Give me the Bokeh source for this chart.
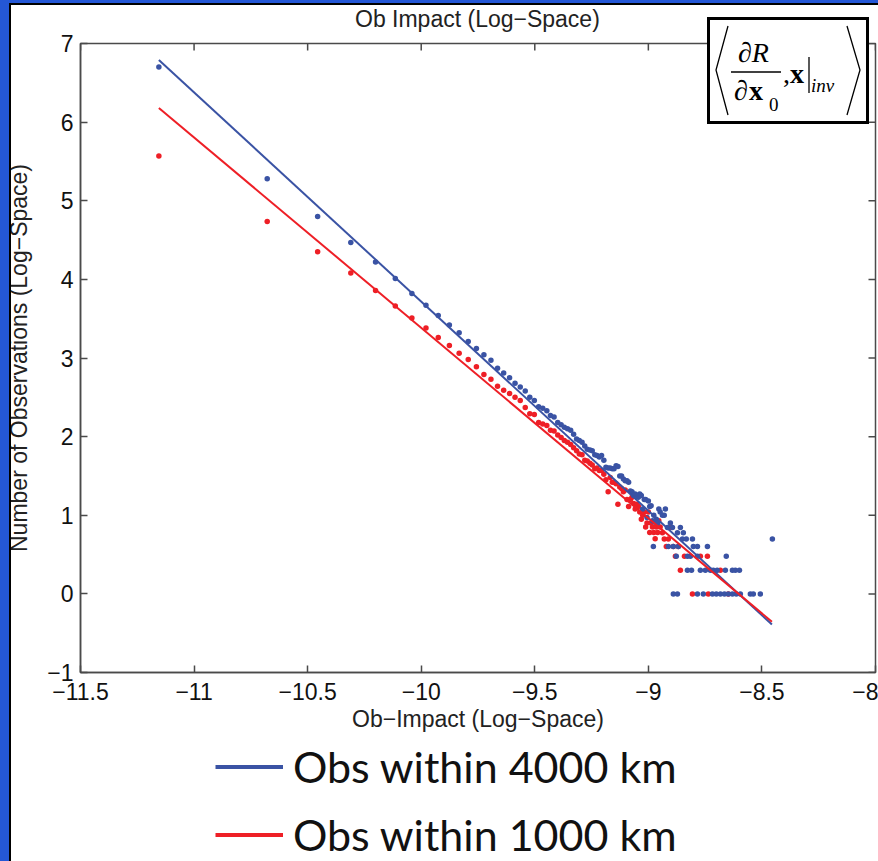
from bokeh.plotting import figure
from bokeh.models import FixedTicker, Legend, LegendItem, Div, Range1d
from bokeh.layouts import column
from bokeh.embed import file_html
from bokeh.resources import INLINE

# ---------------- data ----------------
blue_x = [-11.155, -10.678, -10.456, -10.310, -10.201, -10.114, -10.041, -9.979, -9.925, -9.876,
          -9.833, -9.793, -9.757, -9.724, -9.693, -9.664, -9.637, -9.611, -9.587, -9.564,
          -9.542, -9.522, -9.502, -9.483, -9.465, -9.447, -9.431, -9.415, -9.399, -9.384,
          -9.370, -9.356, -9.342, -9.329, -9.316, -9.304, -9.292, -9.280, -9.269, -9.257,
          -9.247, -9.236, -9.226, -9.216, -9.206, -9.196, -9.187, -9.177, -9.168, -9.159,
          -9.151, -9.142, -9.134, -9.126, -9.118, -9.110, -9.102, -9.094, -9.087, -9.079,
          -9.072, -9.065, -9.058, -9.051, -9.044, -9.038, -9.031, -9.025, -9.018, -9.012,
          -9.006, -9.000, -8.994, -8.988, -8.982, -8.976, -8.970, -8.965, -8.959, -8.954,
          -8.948, -8.978, -8.938, -8.930, -8.925, -8.916, -8.912, -8.903, -8.894, -8.890,
          -8.890, -8.877, -8.872, -8.872, -8.868, -8.859, -8.850, -8.846, -8.833, -8.828,
          -8.828, -8.815, -8.810, -8.806, -8.802, -8.784, -8.784, -8.784, -8.771, -8.758,
          -8.749, -8.740, -8.727, -8.718, -8.714, -8.701, -8.697, -8.683, -8.665, -8.661,
          -8.657, -8.648, -8.630, -8.630, -8.617, -8.613, -8.599, -8.595, -8.551, -8.538,
          -8.507, -8.454]
blue_y = [6.70, 5.28, 4.80, 4.47, 4.22, 4.01, 3.82, 3.67, 3.54, 3.42,
          3.32, 3.21, 3.12, 3.04, 2.97, 2.87, 2.81, 2.75, 2.68, 2.63,
          2.58, 2.50, 2.46, 2.38, 2.36, 2.33, 2.27, 2.25, 2.18, 2.15,
          2.12, 2.10, 2.08, 2.03, 1.97, 1.95, 1.93, 1.88, 1.84, 1.83,
          1.82, 1.77, 1.76, 1.74, 1.76, 1.70, 1.61, 1.60, 1.60, 1.59,
          1.59, 1.63, 1.62, 1.50, 1.50, 1.46, 1.44, 1.44, 1.42, 1.31,
          1.30, 1.25, 1.27, 1.25, 1.23, 1.27, 1.25, 1.08, 1.20, 1.20,
          0.97, 1.18, 1.11, 1.12, 0.93, 1.00, 0.91, 0.95, 0.90, 1.08,
          1.04, 0.602, 1.00, 1.00, 1.08, 0.845, 0.602, 0.903, 0.845, 0.602,
          0.0, 0.477, 0.778, 0.0, 0.602, 0.845, 0.699, 0.778, 0.699, 0.477,
          0.301, 0.477, 0.301, 0.699, 0.602, 0.602, 0.477, 0.0, 0.301, 0.0,
          0.301, 0.602, 0.301, 0.0, 0.301, 0.0, 0.301, 0.0, 0.0, 0.301,
          0.477, 0.0, 0.301, 0.0, 0.301, 0.0, 0.301, 0.0, 0.0, 0.0,
          0.0, 0.699]

red_x = [-11.155, -10.678, -10.456, -10.310, -10.201, -10.114, -10.041, -9.979, -9.925, -9.876,
         -9.833, -9.793, -9.757, -9.724, -9.693, -9.664, -9.637, -9.611, -9.587, -9.564,
         -9.542, -9.522, -9.502, -9.483, -9.465, -9.447, -9.431, -9.415, -9.399, -9.384,
         -9.370, -9.356, -9.342, -9.329, -9.316, -9.304, -9.292, -9.280, -9.269, -9.257,
         -9.247, -9.236, -9.226, -9.216, -9.206, -9.196, -9.187, -9.177, -9.168, -9.159,
         -9.151, -9.142, -9.134, -9.126, -9.118, -9.110, -9.102, -9.094, -9.087, -9.079,
         -9.072, -9.065, -9.058, -9.051, -9.044, -9.038, -9.031, -9.025, -9.018, -9.012,
         -9.006, -9.000, -8.994, -8.988, -8.982, -8.976, -8.970, -8.965, -8.959, -8.954,
         -8.948, -8.938, -8.930, -8.921, -8.912, -8.903, -8.890, -8.881, -8.868, -8.859,
         -8.841, -8.806, -8.771, -8.740, -8.736, -8.683, -8.648]
red_y = [5.57, 4.735, 4.35, 4.08, 3.86, 3.66, 3.51, 3.38, 3.26, 3.16,
         3.06, 2.98, 2.89, 2.79, 2.73, 2.64, 2.59, 2.55, 2.50, 2.46,
         2.37, 2.29, 2.28, 2.18, 2.16, 2.14, 2.08, 2.07, 2.02, 1.99,
         1.95, 1.93, 1.90, 1.86, 1.82, 1.78, 1.77, 1.70, 1.69, 1.66,
         1.64, 1.59, 1.60, 1.57, 1.57, 1.52, 1.45, 1.30, 1.48, 1.42,
         1.42, 1.40, 1.14, 1.36, 1.34, 1.30, 1.32, 1.20, 1.11, 1.20,
         1.23, 1.15, 1.08, 1.14, 1.11, 1.04, 0.95, 1.00, 1.04, 0.85,
         0.90, 1.04, 0.78, 0.90, 0.85, 0.78, 0.70, 0.85, 0.78, 0.93,
         0.85, 0.778, 0.699, 0.602, 0.699, 0.845, 0.602, 0.477, 0.602, 0.301,
         0.477, 0.0, 0.477, 0.477, 0.0, 0.301, 0.0]

fit_x = [-11.155, -8.456]
blue_fit_y = [6.79, -0.39]
red_fit_y = [6.18, -0.355]

x_tick_vals = [-11.5, -11, -10.5, -10, -9.5, -9, -8.5, -8]
x_tick_labels = ["\u221211.5", "\u221211", "\u221210.5", "\u221210", "\u22129.5", "\u22129", "\u22128.5", "\u22128"]
y_tick_vals = [-1, 0, 1, 2, 3, 4, 5, 6, 7]
y_tick_labels = ["\u22121", "0", "1", "2", "3", "4", "5", "6", "7"]

title_text = "Ob Impact (Log\u2212Space)"
x_label = "Ob\u2212Impact (Log\u2212Space)"
y_label = "Number of Observations (Log\u2212Space)"
series_names = ["Obs within 4000 km", "Obs within 1000 km"]

# ---------------- styling ----------------
BLUE_BG = "#2457d6"
C_BLUE = "#3a53a4"
C_RED = "#ee1f26"
AX = "#4a4a4a"
FONT = "Liberation Sans"
FS = "23px"

X0, X1, Y0, Y1 = -11.5, -8.0, -1.0, 7.0
FRAME_W, FRAME_H = 795.0, 629.0   # frame size in px
TICK = 7.0                        # tick length in px

PAGE_W = 878
H_MAIN, H_LEG = 740, 121

p = figure(width=PAGE_W, height=H_MAIN, x_range=Range1d(X0, X1), y_range=Range1d(Y0, Y1),
           output_backend="svg", toolbar_location=None,
           min_border_left=80, min_border_right=3, min_border_top=43, min_border_bottom=68,
           background_fill_color="white", border_fill_color="white")
p.grid.visible = False
p.outline_line_color = AX
p.outline_line_width = 1.5
p.title.visible = False

for ax in (p.xaxis[0], p.yaxis[0]):
    ax.major_tick_in = 7
    ax.major_tick_out = 0
    ax.minor_tick_line_color = None
    ax.axis_line_color = AX
    ax.axis_line_width = 1.5
    ax.major_tick_line_color = AX
    ax.major_tick_line_width = 1.5
    ax.major_label_text_font = FONT
    ax.major_label_text_font_size = FS
    ax.major_label_text_color = "#111111"
    ax.axis_label_text_font = FONT
    ax.axis_label_text_font_size = FS
    ax.axis_label_text_font_style = "normal"
    ax.axis_label_text_color = "#222222"

p.xaxis[0].ticker = FixedTicker(ticks=x_tick_vals)
p.xaxis[0].major_label_overrides = dict(zip(x_tick_vals, x_tick_labels))
p.xaxis[0].major_label_standoff = 10
p.xaxis[0].axis_label = x_label
p.xaxis[0].axis_label_standoff = 3

p.yaxis[0].ticker = FixedTicker(ticks=y_tick_vals)
p.yaxis[0].major_label_overrides = dict(zip(y_tick_vals, y_tick_labels))
p.yaxis[0].major_label_standoff = 7
p.yaxis[0].axis_label = y_label
p.yaxis[0].axis_label_standoff = 12

# box-style inward ticks on the top and right edges
ty = TICK * (Y1 - Y0) / FRAME_H
tx = TICK * (X1 - X0) / FRAME_W
p.segment(x0=x_tick_vals, y0=[Y1] * len(x_tick_vals), x1=x_tick_vals,
          y1=[Y1 - ty] * len(x_tick_vals), line_color=AX, line_width=1.5)
p.segment(x0=[X1] * len(y_tick_vals), y0=y_tick_vals, x1=[X1 - tx] * len(y_tick_vals),
          y1=y_tick_vals, line_color=AX, line_width=1.5)

# ---------------- data marks ----------------
p.scatter(red_x, red_y, size=5.5, color=C_RED, line_color=None)
p.scatter(blue_x, blue_y, size=5.5, color=C_BLUE, line_color=None)
p.line(fit_x, blue_fit_y, color=C_BLUE, line_width=2)
p.line(fit_x, red_fit_y, color=C_RED, line_width=2)

# ---------------- legend panel under the plot ----------------
pl = figure(width=PAGE_W, height=H_LEG, x_range=Range1d(0, 1), y_range=Range1d(0, 1),
            output_backend="svg", toolbar_location=None,
            x_axis_location=None, y_axis_location=None,
            min_border_left=0, min_border_right=0, min_border_top=0, min_border_bottom=0,
            background_fill_color="white", border_fill_color="white")
pl.grid.visible = False
pl.outline_line_color = None
# legend swatches (kept outside the visible range of this panel)
leg_b = pl.line([2, 3], [2, 3], color=C_BLUE, line_width=4)
leg_r = pl.line([2, 3], [2, 3], color=C_RED, line_width=4)
legend = Legend(items=[LegendItem(label=series_names[0], renderers=[leg_b]),
                       LegendItem(label=series_names[1], renderers=[leg_r])],
                location=(135, 0), orientation="vertical",
                label_text_font="Lato", label_text_font_size="43px",
                label_text_color="#111111",
                glyph_width=68, glyph_height=53, label_height=53, label_standoff=10,
                spacing=15, padding=0, margin=0,
                border_line_color=None, background_fill_alpha=0)
pl.add_layout(legend)

# ---------------- title and formula box (drawn over the plot) ----------------
title_html = ('<div style="font-family:\'Liberation Sans\',sans-serif;font-size:23px;'
              'line-height:23px;color:#222222;white-space:nowrap">'
              f'{title_text}</div>')

SERIF = "font-family:'Liberation Serif',serif;"
formula_svg = (
    '<svg xmlns="http://www.w3.org/2000/svg" width="162" height="107" style="display:block">'
    '<rect x="1.5" y="1.5" width="159" height="104" fill="white" stroke="black" stroke-width="3"/>'
    '<polyline points="21,9 9,53 21,98" fill="none" stroke="black" stroke-width="1.3"/>'
    '<polyline points="140,9 153,53 140,98" fill="none" stroke="black" stroke-width="1.3"/>'
    '<line x1="24" y1="55" x2="74" y2="55" stroke="black" stroke-width="1.5"/>'
    '<line x1="102" y1="40" x2="102" y2="76" stroke="black" stroke-width="1.3"/>'
    f'<text x="31" y="45" style="{SERIF}font-size:28px;font-style:italic">\u2202R</text>'
    f'<text x="27" y="83" style="{SERIF}font-size:28px;font-style:italic">\u2202</text>'
    f'<text x="42" y="83" style="{SERIF}font-size:28px;font-weight:bold">x</text>'
    f'<text x="62" y="94" style="{SERIF}font-size:19px">0</text>'
    f'<text x="76" y="66" style="{SERIF}font-size:28px">,</text>'
    f'<text x="83" y="66" style="{SERIF}font-size:28px;font-weight:bold">x</text>'
    f'<text x="104" y="75" style="{SERIF}font-size:19px;font-style:italic">inv</text>'
    '</svg>'
)


def abs_div(left, top, width, height, html="", bg=None, z=10):
    st = {"position": "absolute", "left": f"{left}px", "top": f"{top}px", "z-index": str(z)}
    if bg:
        st["background-color"] = bg
    return Div(text=html, width=width, height=height, margin=0, styles=st)


title_div = abs_div(355, 8, 260, 26, title_html, z=9)
formula = abs_div(707, 17, 162, 107, formula_svg, z=10)
strip_left = abs_div(0, 0, 9, 861, bg=BLUE_BG, z=20)
strip_top = abs_div(0, 0, PAGE_W, 3, bg=BLUE_BG, z=20)
line_left = abs_div(9, 3, 2, 858, bg="black", z=21)
line_top = abs_div(9, 3, PAGE_W - 9, 2, bg="black", z=21)

layout = column(p, pl, title_div, formula, strip_left, strip_top, line_left, line_top, spacing=0)

open("out.html", "w").write(file_html(layout, INLINE))
